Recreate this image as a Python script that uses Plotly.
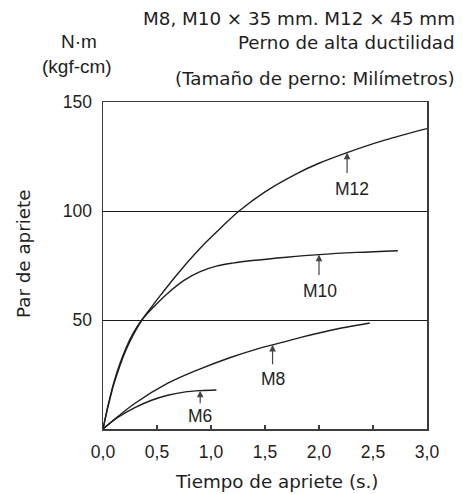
import plotly.graph_objects as go

# ---- data ----
m6_t = [0, 0.07, 0.14, 0.29, 0.45, 0.6, 0.75, 0.9, 1.05]
m6_v = [0, 2.9, 5.4, 9.7, 13.2, 15.5, 16.9, 17.6, 17.9]

m8_t = [0, 0.14, 0.29, 0.6, 0.86, 1.18, 1.4, 1.57, 1.8, 2.1, 2.47]
m8_v = [0, 5.8, 11.6, 21.0, 26.8, 32.8, 36.3, 38.6, 41.6, 45.2, 48.6]

m10_t = [0, 0.05, 0.1, 0.16, 0.22, 0.28, 0.36, 0.45, 0.6, 0.75, 0.9, 1.05, 1.2, 1.41, 1.7, 2.0, 2.35, 2.73]
m10_v = [0, 11.5, 21.3, 30.5, 38.0, 44.0, 50.0, 55.0, 62.3, 68.2, 72.2, 74.7, 76.1, 77.4, 78.8, 80.0, 81.0, 81.8]

m12_t = [0, 0.05, 0.1, 0.16, 0.22, 0.28, 0.36, 0.45, 0.535, 0.70, 0.95, 1.1, 1.26, 1.5, 1.8, 2.0, 2.26, 2.6, 3.0]
m12_v = [0, 11.0, 20.5, 29.5, 37.0, 43.2, 50.0, 56.0, 61.5, 71.7, 85.5, 92.7, 100.0, 108.8, 117.3, 121.9, 126.8, 132.4, 137.8]

series = [("M6", m6_t, m6_v), ("M8", m8_t, m8_v), ("M10", m10_t, m10_v), ("M12", m12_t, m12_v)]

label_names = ["M6", "M8", "M10", "M12"]
label_t = [0.9, 1.57, 2.0, 2.26]
label_v = [17.6, 38.6, 80.0, 126.8]

x_tickvals = [0, 0.5, 1.0, 1.5, 2.0, 2.5, 3.0]
x_ticktext = ["0,0", "0,5", "1,0", "1,5", "2,0", "2,5", "3,0"]
y_tickvals = [50, 100, 150]
y_ticktext = ["50", "100", "150"]

header_lines = ["M8, M10 × 35 mm. M12 × 45 mm", "Perno de alta ductilidad", "(Tamaño de perno: Milímetros)"]
unit_lines = ["N·m", "(kgf-cm)"]
x_title = "Tiempo de apriete (s.)"
y_title = "Par de apriete"

# ---- layout geometry ----
W, H = 463, 494
ML, MR, MT, MB = 103, 36, 102, 65
PW, PH = W - ML - MR, H - MT - MB

def px(x):
    return (x - ML) / PW

def py(y):
    return (H - MB - y) / PH

ARIAL = "Liberation Sans, Arial, sans-serif"
WIDE = "DejaVu Sans, sans-serif"
INK = "#1e1e1e"
FRAME = "#3c3c3c"

fig = go.Figure()
for name, t, v in series:
    fig.add_trace(go.Scatter(x=t, y=v, mode="lines", name=name,
                             line=dict(color=INK, width=1.4, shape="spline", smoothing=1.0),
                             showlegend=False, hoverinfo="skip"))

ann = []
arrow_len = [14, 21, 22, 22]
text_dy = [25, 34, 36, 36]
text_dx = [0, 0, 1, 5]
for i, name in enumerate(label_names):
    ann.append(dict(x=label_t[i], y=label_v[i], xref="x", yref="y", text="",
                    showarrow=True, ax=0, ay=arrow_len[i], arrowhead=2, arrowsize=1.1,
                    arrowwidth=1.2, arrowcolor="#444444", standoff=0))
    ann.append(dict(x=label_t[i], y=label_v[i], xref="x", yref="y", text=name,
                    showarrow=False, xshift=text_dx[i], yshift=-text_dy[i],
                    xanchor="center", yanchor="middle",
                    font=dict(family=ARIAL, size=17.5, color=INK)))

header_y = [18, 43, 79]
for txt, yy in zip(header_lines, header_y):
    ann.append(dict(x=px(457), y=py(yy), xref="paper", yref="paper", text=txt,
                    showarrow=False, xanchor="right", yanchor="middle",
                    font=dict(family=WIDE, size=18.3, color=INK)))
unit_pos = [(79, 41), (76.5, 67)]
for txt, (xx, yy) in zip(unit_lines, unit_pos):
    ann.append(dict(x=px(xx), y=py(yy), xref="paper", yref="paper", text=txt,
                    showarrow=False, xanchor="center", yanchor="middle",
                    font=dict(family=ARIAL, size=19, color=INK)))

ann.append(dict(x=px(276.5), y=py(481.5), xref="paper", yref="paper", text=x_title,
                showarrow=False, xanchor="center", yanchor="middle",
                font=dict(family=WIDE, size=18.3, color=INK)))
ann.append(dict(x=px(23.5), y=py(254.5), xref="paper", yref="paper", text=y_title,
                showarrow=False, xanchor="center", yanchor="middle", textangle=-90,
                font=dict(family=WIDE, size=18.3, color=INK)))

fig.update_layout(
    width=W, height=H,
    margin=dict(l=ML, r=MR, t=MT, b=MB, pad=0),
    paper_bgcolor="white", plot_bgcolor="white",
    annotations=ann,
    xaxis=dict(range=[0, 3], tickvals=x_tickvals, ticktext=x_ticktext,
               ticks="inside", ticklen=4, tickwidth=1.3, tickcolor=FRAME,
               showline=True, linecolor=FRAME, linewidth=1.5, mirror=True,
               showgrid=False, zeroline=False, ticklabelstandoff=6,
               tickfont=dict(family=ARIAL, size=17.5, color=INK)),
    yaxis=dict(range=[0, 150], tickvals=y_tickvals, ticktext=y_ticktext,
               ticks="", showline=True, linecolor=FRAME, linewidth=1.5, mirror=True,
               showgrid=True, gridcolor="#1a1a1a", gridwidth=1, zeroline=False,
               ticklabelstandoff=6,
               tickfont=dict(family=ARIAL, size=17.5, color=INK)),
)

fig.write_html("out.html", config={"displayModeBar": False, "staticPlot": True},
               post_script="document.body.style.margin='0';document.body.style.overflow='hidden';")
